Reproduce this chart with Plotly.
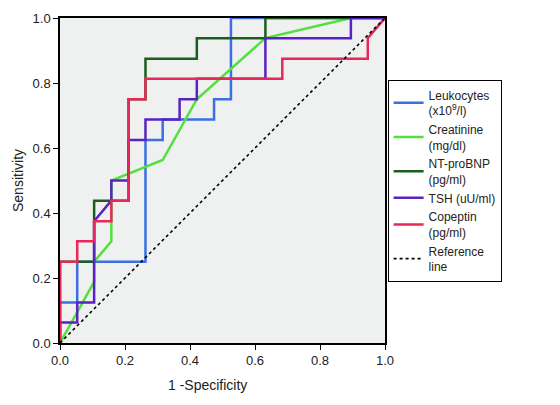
import plotly.graph_objects as go

# ROC coordinates (1 - specificity, sensitivity)
leuko_x = [0, 0, 0.053, 0.053, 0.263, 0.263, 0.316, 0.316, 0.474, 0.474, 0.526, 0.526, 1]
leuko_y = [0, 0.125, 0.125, 0.25, 0.25, 0.625, 0.625, 0.688, 0.688, 0.75, 0.75, 1, 1]

creat_x = [0, 0.105, 0.105, 0.158, 0.158, 0.316, 0.421, 0.632, 0.895, 1]
creat_y = [0, 0.188, 0.25, 0.313, 0.5, 0.563, 0.75, 0.938, 1, 1]

ntbnp_x = [0, 0, 0.105, 0.105, 0.158, 0.211, 0.211, 0.263, 0.263, 0.421, 0.421, 0.632, 0.632, 1]
ntbnp_y = [0, 0.25, 0.25, 0.438, 0.438, 0.438, 0.75, 0.75, 0.875, 0.875, 0.938, 0.938, 1, 1]

tsh_x = [0, 0, 0.053, 0.053, 0.105, 0.105, 0.158, 0.158, 0.211, 0.211, 0.263, 0.263, 0.368, 0.368,
         0.421, 0.421, 0.632, 0.632, 0.895, 0.895, 1]
tsh_y = [0, 0.063, 0.063, 0.125, 0.125, 0.375, 0.438, 0.5, 0.5, 0.625, 0.625, 0.688, 0.688, 0.75,
         0.75, 0.813, 0.813, 0.938, 0.938, 1, 1]

copep_x = [0, 0, 0.053, 0.053, 0.105, 0.105, 0.158, 0.158, 0.211, 0.211, 0.263, 0.263, 0.684, 0.684,
           0.947, 0.947, 1]
copep_y = [0, 0.25, 0.25, 0.313, 0.313, 0.375, 0.375, 0.438, 0.438, 0.75, 0.75, 0.813, 0.813, 0.875,
           0.875, 0.938, 1]

ref_x = [0, 1]
ref_y = [0, 1]

names = ["Leukocytes<br>(x10<sup>9</sup>/l)", "Creatinine<br>(mg/dl)", "NT-proBNP<br>(pg/ml)",
         "TSH (uU/ml)", "Copeptin<br>(pg/ml)", "Reference<br>line"]
colors = ["#3c6fe2", "#52e03e", "#1b5e1f", "#5a22c2", "#e8285a", "#000000"]

series = [(leuko_x, leuko_y), (creat_x, creat_y), (ntbnp_x, ntbnp_y),
          (tsh_x, tsh_y), (copep_x, copep_y)]

fig = go.Figure()
for (xs, ys), nm, col in zip(series, names[:5], colors[:5]):
    fig.add_trace(go.Scatter(x=xs, y=ys, mode="lines", name=nm,
                             line=dict(color=col, width=2.5)))
fig.add_trace(go.Scatter(x=ref_x, y=ref_y, mode="lines", name=names[5],
                         line=dict(color=colors[5], width=1.6, dash="dot")))

tickvals = [0, 0.2, 0.4, 0.6, 0.8, 1.0]
ticktext = ["0.0", "0.2", "0.4", "0.6", "0.8", "1.0"]

axis_common = dict(range=[0, 1], tickvals=tickvals, ticktext=ticktext,
                   ticks="outside", ticklen=5, tickwidth=1.2, tickcolor="black",
                   showline=True, linecolor="black", linewidth=1.5, mirror=True,
                   showgrid=False, zeroline=False, automargin=False,
                   tickfont=dict(family="Liberation Sans, Arial", size=13, color="#222"))

# page body has an 8px default margin, so the figure is sized/offset to compensate
fig.update_layout(
    width=552, height=397,
    margin=dict(l=52, r=175, t=10, b=62),
    paper_bgcolor="white", plot_bgcolor="#eff0f0",
    font=dict(family="Liberation Sans, Arial", color="#222"),
    xaxis=dict(**axis_common),
    yaxis=dict(**axis_common, title=dict(text="Sensitivity", font=dict(size=14), standoff=6)),
    legend=dict(x=1.008, y=0.81, xanchor="left", yanchor="top",
                bordercolor="black", borderwidth=1, bgcolor="white",
                font=dict(family="Liberation Sans, Arial", size=12, color="#222"),
                tracegroupgap=0, itemwidth=30),
    showlegend=True,
    annotations=[dict(text="1 -Specificity", xref="paper", yref="paper",
                      x=0.455, y=-0.13, xanchor="center", yanchor="middle",
                      showarrow=False, font=dict(size=14, color="#222"))],
)

fig.write_html("out.html")
